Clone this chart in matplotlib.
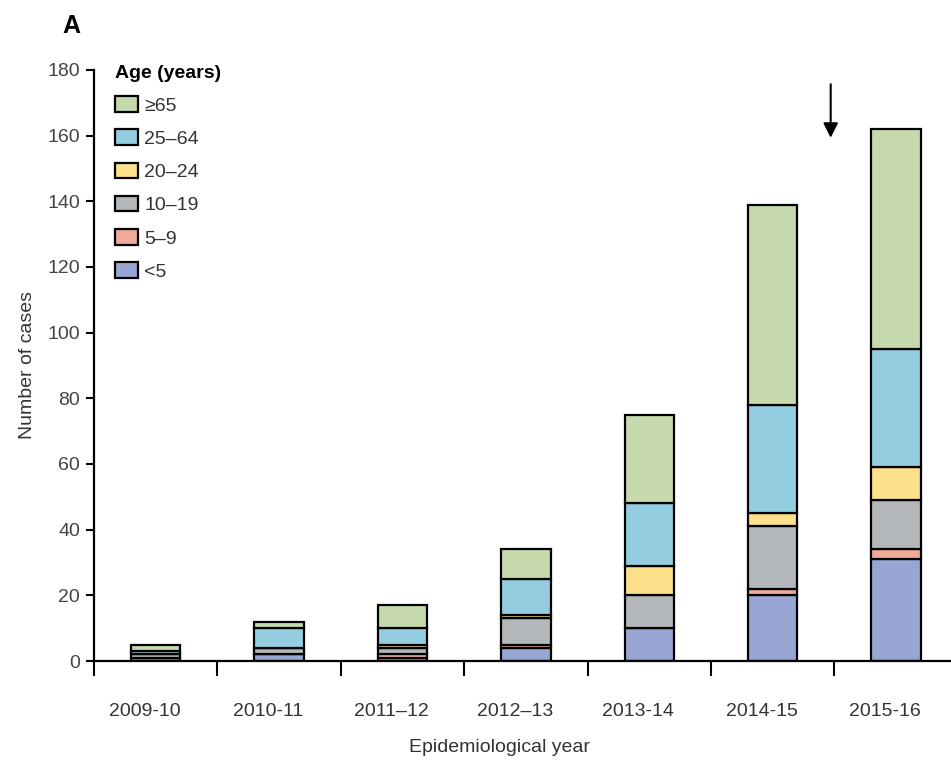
import numpy as np
import matplotlib
matplotlib.use('Agg')
import matplotlib.pyplot as plt

plt.rcParams['font.family'] = ['Liberation Sans', 'DejaVu Sans']

years = ['2009-10', '2010-11', '2011–12', '2012–13', '2013-14', '2014-15', '2015-16']
age_groups = ['<5', '5–9', '10–19', '20–24', '25–64', '≥65']

# cases per age group, stacked from the bottom
under5 = [1, 2, 1, 4, 10, 20, 31]
age5_9 = [0, 0, 1, 1, 0, 2, 3]
age10_19 = [1, 2, 2, 8, 10, 19, 15]
age20_24 = [0, 0, 1, 1, 9, 4, 10]
age25_64 = [1, 6, 5, 11, 19, 33, 36]
age65 = [2, 2, 7, 9, 27, 61, 67]

colors = ['#98a6d4', '#f0aa9a', '#b3b7b9', '#fde08c', '#94cde0', '#c5d9ad']

fig = plt.figure(figsize=(9.51, 7.63), dpi=100)
ax = fig.add_axes([94 / 951, 102 / 763, 857 / 951, 591 / 763])

x = np.arange(len(years))
bottom = np.zeros(len(years))
handles = []
for vals, col, lab in zip([under5, age5_9, age10_19, age20_24, age25_64, age65], colors, age_groups):
    vals = np.array(vals, dtype=float)
    b = ax.bar(x, vals, 0.4, bottom=bottom, color=col, edgecolor='black', linewidth=1.6, label=lab)
    handles.append(b)
    bottom += vals

ax.set_xlim(-0.5, 6.445)
ax.set_ylim(0, 180)

# tick marks between the bars, labels on minor ticks
ax.set_xticks(np.arange(len(years)) - 0.5)
ax.set_xticklabels([])
ax.set_xticks(x - 0.09, minor=True)
ax.set_xticklabels(years, minor=True, fontsize=14, color='#333333')
ax.tick_params(axis='x', which='major', direction='out', length=11, width=1.5)
ax.tick_params(axis='x', which='minor', length=0, pad=30)

ax.set_yticks(np.arange(0, 181, 20))
ax.tick_params(axis='y', direction='out', length=6, width=1.5, pad=4, labelsize=14, labelcolor='#444444')

for s in ['top', 'right']:
    ax.spines[s].set_visible(False)
for s in ['left', 'bottom']:
    ax.spines[s].set_linewidth(1.6)

leg = ax.legend(handles[::-1], age_groups[::-1], title='Age (years)', loc='upper left',
                bbox_to_anchor=(0.0245, 1.008), frameon=False, fontsize=14,
                borderpad=0, borderaxespad=0,
                handlelength=1.2, handleheight=0.85, labelspacing=0.76,
                handletextpad=0.3, alignment='left',
                title_fontproperties={'size': 14, 'weight': 'bold'})
leg._legend_box.sep = 10
for t in leg.get_texts():
    t.set_color('#333333')
for p in leg.get_patches():
    p.set_linewidth(1.6)

# arrow above the last season
ax.annotate('', xy=(5.47, 158.5), xytext=(5.47, 176.5),
            arrowprops=dict(arrowstyle='-|>', color='black', lw=1.5, mutation_scale=22),
            annotation_clip=False)

fig.text(500 / 951, 1 - 748 / 763, 'Epidemiological year', ha='center', va='center',
         fontsize=14, color='#333333')
fig.text(28 / 951, 1 - 365 / 763, 'Number of cases', ha='center', va='center',
         rotation=90, fontsize=14, color='#333333')
fig.text(71 / 951, 1 - 26 / 763, 'A', ha='center', va='center', fontsize=18, fontweight='bold')

fig.savefig('out.png', dpi=100)
